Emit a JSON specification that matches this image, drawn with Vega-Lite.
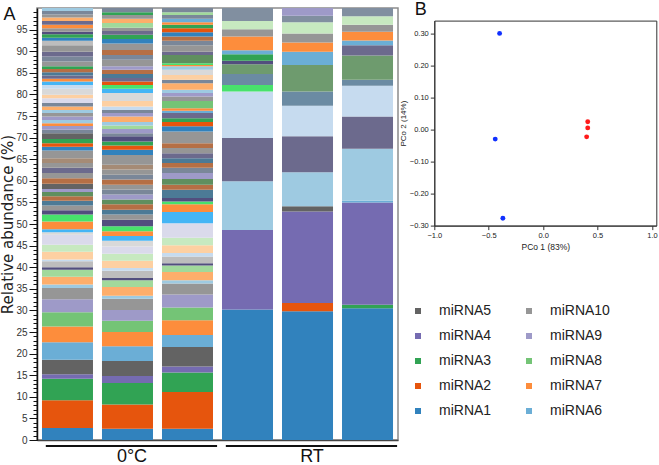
{
"$schema": "https://vega.github.io/schema/vega-lite/v6.json",
"padding": {"left": 0, "top": 0, "right": 0, "bottom": 0},
"background": "white",
"spacing": 36.3,
"bounds": "flush",
"config": {"font": "Liberation Sans", "view": {"stroke": null}, "axis": {"grid": false}},
"hconcat": [
{
"width": 361, "height": 432,
"view": {"stroke": "#8c8c8c", "strokeWidth": 1.5},
"resolve": {"axis": {"y": "independent"}},
"layer": [
{
"data": {"values": [
{"s":"S1","k":1,"t":"miRNA1","v":2.8},{"s":"S1","k":2,"t":"miRNA2","v":6.4},{"s":"S1","k":3,"t":"miRNA3","v":5.0},{"s":"S1","k":4,"t":"miRNA4","v":1.0},{"s":"S1","k":5,"t":"miRNA5","v":3.4},{"s":"S1","k":6,"t":"miRNA6","v":4.0},{"s":"S1","k":7,"t":"miRNA7","v":3.7},{"s":"S1","k":8,"t":"miRNA8","v":3.3},{"s":"S1","k":9,"t":"miRNA9","v":3.0},{"s":"S1","k":10,"t":"miRNA10","v":2.6},
{"s":"S1","k":11,"t":"miRNA11","v":0.8},{"s":"S1","k":12,"t":"miRNA12","v":1.8},{"s":"S1","k":13,"t":"miRNA13","v":1.6},{"s":"S1","k":14,"t":"miRNA14","v":0.6},{"s":"S1","k":15,"t":"miRNA15","v":1.4},{"s":"S1","k":16,"t":"miRNA16","v":0.4},{"s":"S1","k":17,"t":"miRNA17","v":1.8},{"s":"S1","k":18,"t":"miRNA18","v":1.6},{"s":"S1","k":19,"t":"miRNA19","v":2.3},{"s":"S1","k":20,"t":"miRNA20","v":0.6},
{"s":"S1","k":21,"t":"miRNA21","v":0.7},{"s":"S1","k":22,"t":"miRNA7","v":1.8},{"s":"S1","k":23,"t":"miRNA22","v":1.6},{"s":"S1","k":24,"t":"miRNA14","v":1.0},{"s":"S1","k":25,"t":"miRNA10","v":1.1},{"s":"S1","k":26,"t":"miRNA23","v":1.1},{"s":"S1","k":27,"t":"miRNA24","v":1.0},{"s":"S1","k":28,"t":"miRNA25","v":1.0},{"s":"S1","k":29,"t":"miRNA9","v":0.7},{"s":"S1","k":30,"t":"miRNA5","v":1.2},
{"s":"S1","k":31,"t":"miRNA24","v":1.3},{"s":"S1","k":32,"t":"miRNA10","v":1.2},{"s":"S1","k":33,"t":"miRNA27","v":1.2},{"s":"S1","k":34,"t":"miRNA10","v":1.1},{"s":"S1","k":35,"t":"miRNA31","v":1.1},{"s":"S1","k":36,"t":"miRNA10","v":1.8},{"s":"S1","k":37,"t":"miRNA1","v":0.9},{"s":"S1","k":38,"t":"miRNA2","v":0.8},{"s":"S1","k":39,"t":"miRNA3","v":1.0},{"s":"S1","k":40,"t":"miRNA5","v":1.3},
{"s":"S1","k":41,"t":"miRNA26","v":0.8},{"s":"S1","k":42,"t":"miRNA9","v":0.9},{"s":"S1","k":43,"t":"miRNA7","v":0.6},{"s":"S1","k":44,"t":"miRNA11","v":0.8},{"s":"S1","k":45,"t":"miRNA9","v":0.8},{"s":"S1","k":46,"t":"miRNA10","v":0.8},{"s":"S1","k":47,"t":"miRNA11","v":0.7},{"s":"S1","k":48,"t":"miRNA12","v":0.8},{"s":"S1","k":49,"t":"miRNA26","v":0.8},{"s":"S1","k":50,"t":"miRNA19","v":1.1},
{"s":"S1","k":51,"t":"miRNA17","v":0.8},{"s":"S1","k":52,"t":"miRNA20","v":1.4},{"s":"S1","k":53,"t":"miRNA16","v":0.9},{"s":"S1","k":54,"t":"miRNA21","v":0.8},{"s":"S1","k":55,"t":"miRNA7","v":0.6},{"s":"S1","k":56,"t":"miRNA27","v":0.8},{"s":"S1","k":57,"t":"miRNA23","v":0.7},{"s":"S1","k":58,"t":"miRNA24","v":0.8},{"s":"S1","k":59,"t":"miRNA3","v":0.6},{"s":"S1","k":60,"t":"miRNA10","v":1.1},
{"s":"S1","k":61,"t":"miRNA26","v":1.2},{"s":"S1","k":62,"t":"miRNA27","v":1.1},{"s":"S1","k":63,"t":"miRNA10","v":1.5},{"s":"S1","k":64,"t":"miRNA15","v":1.0},{"s":"S1","k":65,"t":"miRNA1","v":0.7},{"s":"S1","k":66,"t":"miRNA3","v":0.8},{"s":"S1","k":67,"t":"miRNA14","v":0.6},{"s":"S1","k":68,"t":"miRNA10","v":0.8},{"s":"S1","k":69,"t":"miRNA7","v":0.8},{"s":"S1","k":70,"t":"miRNA27","v":0.9},
{"s":"S1","k":71,"t":"miRNA12","v":0.8},{"s":"S1","k":72,"t":"miRNA10","v":0.7},{"s":"S1","k":73,"t":"miRNA26","v":0.8},{"s":"S1","k":74,"t":"miRNA11","v":0.7},
{"s":"S2","k":1,"t":"miRNA1","v":2.6},{"s":"S2","k":2,"t":"miRNA2","v":5.6},{"s":"S2","k":3,"t":"miRNA3","v":5.0},{"s":"S2","k":4,"t":"miRNA4","v":1.6},{"s":"S2","k":5,"t":"miRNA5","v":3.5},{"s":"S2","k":6,"t":"miRNA6","v":3.4},{"s":"S2","k":7,"t":"miRNA7","v":3.3},{"s":"S2","k":8,"t":"miRNA8","v":2.6},{"s":"S2","k":9,"t":"miRNA9","v":2.5},{"s":"S2","k":10,"t":"miRNA10","v":2.6},
{"s":"S2","k":11,"t":"miRNA11","v":0.7},{"s":"S2","k":12,"t":"miRNA12","v":2.0},{"s":"S2","k":13,"t":"miRNA13","v":1.6},{"s":"S2","k":14,"t":"miRNA14","v":0.5},{"s":"S2","k":15,"t":"miRNA15","v":1.7},{"s":"S2","k":16,"t":"miRNA16","v":0.6},{"s":"S2","k":17,"t":"miRNA17","v":1.7},{"s":"S2","k":18,"t":"miRNA18","v":1.6},{"s":"S2","k":19,"t":"miRNA19","v":1.7},{"s":"S2","k":20,"t":"miRNA20","v":1.3},
{"s":"S2","k":21,"t":"miRNA21","v":1.1},{"s":"S2","k":22,"t":"miRNA7","v":1.1},{"s":"S2","k":23,"t":"miRNA22","v":1.2},{"s":"S2","k":24,"t":"miRNA14","v":1.5},{"s":"S2","k":25,"t":"miRNA10","v":1.2},{"s":"S2","k":26,"t":"miRNA23","v":1.1},{"s":"S2","k":27,"t":"miRNA24","v":1.3},{"s":"S2","k":28,"t":"miRNA25","v":1.1},{"s":"S2","k":29,"t":"miRNA9","v":1.1},{"s":"S2","k":30,"t":"miRNA26","v":1.2},
{"s":"S2","k":31,"t":"miRNA10","v":1.1},{"s":"S2","k":32,"t":"miRNA24","v":1.2},{"s":"S2","k":33,"t":"miRNA26","v":1.1},{"s":"S2","k":34,"t":"miRNA10","v":1.2},{"s":"S2","k":35,"t":"miRNA31","v":1.1},{"s":"S2","k":36,"t":"miRNA10","v":2.3},{"s":"S2","k":37,"t":"miRNA1","v":1.2},{"s":"S2","k":38,"t":"miRNA2","v":1.0},{"s":"S2","k":39,"t":"miRNA3","v":0.9},{"s":"S2","k":40,"t":"miRNA14","v":1.2},
{"s":"S2","k":41,"t":"miRNA26","v":0.7},{"s":"S2","k":42,"t":"miRNA9","v":1.0},{"s":"S2","k":43,"t":"miRNA13","v":0.8},{"s":"S2","k":44,"t":"miRNA11","v":0.8},{"s":"S2","k":45,"t":"miRNA12","v":1.3},{"s":"S2","k":46,"t":"miRNA9","v":0.8},{"s":"S2","k":47,"t":"miRNA26","v":0.7},{"s":"S2","k":48,"t":"miRNA16","v":0.8},{"s":"S2","k":49,"t":"miRNA17","v":1.3},{"s":"S2","k":50,"t":"miRNA20","v":1.8},
{"s":"S2","k":51,"t":"miRNA21","v":1.0},{"s":"S2","k":52,"t":"miRNA22","v":0.9},{"s":"S2","k":53,"t":"miRNA2","v":0.8},{"s":"S2","k":54,"t":"miRNA27","v":0.8},{"s":"S2","k":55,"t":"miRNA23","v":0.9},{"s":"S2","k":56,"t":"miRNA24","v":1.0},{"s":"S2","k":57,"t":"miRNA9","v":0.8},{"s":"S2","k":58,"t":"miRNA10","v":1.5},{"s":"S2","k":59,"t":"miRNA26","v":1.1},{"s":"S2","k":60,"t":"miRNA24","v":1.2},
{"s":"S2","k":61,"t":"miRNA10","v":1.5},{"s":"S2","k":62,"t":"miRNA1","v":1.0},{"s":"S2","k":63,"t":"miRNA3","v":1.0},{"s":"S2","k":64,"t":"miRNA27","v":0.9},{"s":"S2","k":65,"t":"miRNA10","v":0.7},{"s":"S2","k":66,"t":"miRNA13","v":1.1},{"s":"S2","k":67,"t":"miRNA12","v":1.0},{"s":"S2","k":68,"t":"miRNA10","v":0.9},{"s":"S2","k":69,"t":"miRNA3","v":0.6},{"s":"S2","k":70,"t":"miRNA26","v":1.0},
{"s":"S3","k":1,"t":"miRNA1","v":2.6},{"s":"S3","k":2,"t":"miRNA2","v":8.5},{"s":"S3","k":3,"t":"miRNA3","v":4.5},{"s":"S3","k":4,"t":"miRNA4","v":1.4},{"s":"S3","k":5,"t":"miRNA5","v":4.5},{"s":"S3","k":6,"t":"miRNA6","v":2.8},{"s":"S3","k":7,"t":"miRNA7","v":3.4},{"s":"S3","k":8,"t":"miRNA8","v":3.0},{"s":"S3","k":9,"t":"miRNA9","v":3.0},{"s":"S3","k":10,"t":"miRNA10","v":2.5},
{"s":"S3","k":11,"t":"miRNA11","v":0.8},{"s":"S3","k":12,"t":"miRNA12","v":1.9},{"s":"S3","k":13,"t":"miRNA13","v":1.5},{"s":"S3","k":14,"t":"miRNA14","v":0.5},{"s":"S3","k":15,"t":"miRNA15","v":1.6},{"s":"S3","k":16,"t":"miRNA16","v":0.8},{"s":"S3","k":17,"t":"miRNA17","v":1.8},{"s":"S3","k":18,"t":"miRNA18","v":1.7},{"s":"S3","k":19,"t":"miRNA19","v":3.4},{"s":"S3","k":20,"t":"miRNA21","v":2.6},
{"s":"S3","k":21,"t":"miRNA7","v":1.8},{"s":"S3","k":22,"t":"miRNA22","v":0.6},{"s":"S3","k":23,"t":"miRNA14","v":0.8},{"s":"S3","k":24,"t":"miRNA23","v":1.9},{"s":"S3","k":25,"t":"miRNA24","v":1.2},{"s":"S3","k":26,"t":"miRNA25","v":1.3},{"s":"S3","k":27,"t":"miRNA9","v":1.4},{"s":"S3","k":28,"t":"miRNA26","v":1.2},{"s":"S3","k":29,"t":"miRNA24","v":1.1},{"s":"S3","k":30,"t":"miRNA23","v":1.1},
{"s":"S3","k":31,"t":"miRNA27","v":1.2},{"s":"S3","k":32,"t":"miRNA10","v":1.2},{"s":"S3","k":33,"t":"miRNA24","v":1.1},{"s":"S3","k":34,"t":"miRNA10","v":2.7},{"s":"S3","k":35,"t":"miRNA1","v":1.2},{"s":"S3","k":36,"t":"miRNA2","v":1.0},{"s":"S3","k":37,"t":"miRNA3","v":0.9},{"s":"S3","k":38,"t":"miRNA27","v":1.2},{"s":"S3","k":39,"t":"miRNA6","v":0.5},{"s":"S3","k":40,"t":"miRNA7","v":0.6},
{"s":"S3","k":41,"t":"miRNA8","v":1.7},{"s":"S3","k":42,"t":"miRNA10","v":1.0},{"s":"S3","k":43,"t":"miRNA9","v":0.8},{"s":"S3","k":44,"t":"miRNA11","v":0.8},{"s":"S3","k":45,"t":"miRNA12","v":1.5},{"s":"S3","k":46,"t":"miRNA26","v":0.8},{"s":"S3","k":47,"t":"miRNA17","v":1.1},{"s":"S3","k":48,"t":"miRNA20","v":1.2},{"s":"S3","k":49,"t":"miRNA11","v":0.8},{"s":"S3","k":50,"t":"miRNA7","v":0.3},
{"s":"S3","k":51,"t":"miRNA22","v":0.4},{"s":"S3","k":52,"t":"miRNA25","v":1.9},{"s":"S3","k":53,"t":"miRNA27","v":0.8},{"s":"S3","k":54,"t":"miRNA10","v":1.5},{"s":"S3","k":55,"t":"miRNA26","v":1.0},{"s":"S3","k":56,"t":"miRNA24","v":1.0},{"s":"S3","k":57,"t":"miRNA1","v":1.0},{"s":"S3","k":58,"t":"miRNA2","v":0.9},{"s":"S3","k":59,"t":"miRNA3","v":0.8},{"s":"S3","k":60,"t":"miRNA7","v":0.6},
{"s":"S3","k":61,"t":"miRNA6","v":0.8},{"s":"S3","k":62,"t":"miRNA26","v":0.9},{"s":"S3","k":63,"t":"miRNA13","v":0.6},{"s":"S3","k":64,"t":"miRNA26","v":1.0},
{"s":"S4","k":1,"t":"miRNA1","v":30.2},{"s":"S4","k":2,"t":"miRNA4","v":18.4},{"s":"S4","k":3,"t":"miRNA11","v":11.3},{"s":"S4","k":4,"t":"miRNA27","v":10.0},{"s":"S4","k":5,"t":"miRNA16","v":10.8},{"s":"S4","k":6,"t":"miRNA22","v":1.5},{"s":"S4","k":7,"t":"miRNA28","v":2.5},{"s":"S4","k":8,"t":"miRNA29","v":2.3},{"s":"S4","k":9,"t":"miRNA14","v":0.8},{"s":"S4","k":10,"t":"miRNA3","v":1.5},{"s":"S4","k":11,"t":"miRNA6","v":0.9},{"s":"S4","k":12,"t":"miRNA7","v":3.2},{"s":"S4","k":13,"t":"miRNA10","v":1.7},{"s":"S4","k":14,"t":"miRNA18","v":1.9},{"s":"S4","k":15,"t":"miRNA30","v":3.0},
{"s":"S5","k":1,"t":"miRNA1","v":29.8},{"s":"S5","k":2,"t":"miRNA2","v":1.9},{"s":"S5","k":3,"t":"miRNA4","v":21.2},{"s":"S5","k":4,"t":"miRNA5","v":1.2},{"s":"S5","k":5,"t":"miRNA11","v":7.9},{"s":"S5","k":6,"t":"miRNA27","v":8.3},{"s":"S5","k":7,"t":"miRNA16","v":7.1},{"s":"S5","k":8,"t":"miRNA28","v":3.3},{"s":"S5","k":9,"t":"miRNA29","v":6.1},{"s":"S5","k":10,"t":"miRNA6","v":3.1},{"s":"S5","k":11,"t":"miRNA7","v":2.1},{"s":"S5","k":12,"t":"miRNA10","v":2.1},{"s":"S5","k":13,"t":"miRNA18","v":2.6},{"s":"S5","k":14,"t":"miRNA30","v":1.5},{"s":"S5","k":15,"t":"miRNA9","v":1.8},
{"s":"S6","k":1,"t":"miRNA1","v":30.5},{"s":"S6","k":2,"t":"miRNA3","v":0.8},{"s":"S6","k":3,"t":"miRNA4","v":23.7},{"s":"S6","k":4,"t":"miRNA6","v":0.4},{"s":"S6","k":5,"t":"miRNA11","v":12.0},{"s":"S6","k":6,"t":"miRNA27","v":7.5},{"s":"S6","k":7,"t":"miRNA16","v":7.1},{"s":"S6","k":8,"t":"miRNA28","v":1.4},{"s":"S6","k":9,"t":"miRNA29","v":5.6},{"s":"S6","k":10,"t":"miRNA27","v":2.4},{"s":"S6","k":11,"t":"miRNA6","v":1.1},{"s":"S6","k":12,"t":"miRNA7","v":2.0},{"s":"S6","k":13,"t":"miRNA10","v":1.6},{"s":"S6","k":14,"t":"miRNA18","v":2.0},{"s":"S6","k":15,"t":"miRNA30","v":1.9}
]},
"mark": {"type": "bar", "stroke": null},
"encoding": {
"x": {"field": "s", "type": "nominal", "scale": {"paddingInner": 0.15, "paddingOuter": 0.083}, "axis": {"title": null, "labels": false, "ticks": false, "domain": true, "domainColor": "#444", "domainWidth": 1.5}},
"y": {"field": "v", "type": "quantitative", "stack": "zero", "scale": {"domain": [0, 100], "nice": false},
"axis": {"orient": "left", "title": "Relative abundance (%)", "titleFont": "DejaVu Sans", "titleFontSize": 15, "titleFontWeight": "normal", "titleColor": "#222", "titlePadding": 0,
"values": [0,5,10,15,20,25,30,35,40,45,50,55,60,65,70,75,80,85,90,95],
"labelFontSize": 10, "labelColor": "#333", "labelPadding": 2, "labelFlush": false, "labelOverlap": false,
"tickColor": "#111", "tickSize": 8, "domainColor": "#111", "domainWidth": 1.5}},
"color": {"field": "t", "type": "nominal",
"scale": {"domain": ["miRNA1","miRNA2","miRNA3","miRNA4","miRNA5","miRNA6","miRNA7","miRNA8","miRNA9","miRNA10","miRNA11","miRNA12","miRNA13","miRNA14","miRNA15","miRNA16","miRNA17","miRNA18","miRNA19","miRNA20","miRNA21","miRNA22","miRNA23","miRNA24","miRNA25","miRNA26","miRNA27","miRNA28","miRNA29","miRNA30","miRNA31"],
"range": ["#3182bd","#e6550d","#31a354","#756bb1","#636363","#6baed6","#fd8d3c","#74c476","#9e9ac8","#969696","#9ecae1","#fdae6b","#a1d99b","#524e7e","#bdbdbd","#c6dbef","#fdd0a2","#c7e9c0","#dadaeb","#d9d9d9","#45b5f5","#48e26c","#4c7a96","#b56f45","#5f8f5f","#7a8799","#6c6a8d","#6b8ba3","#6e9b6e","#818fa0","#a58b76"]},
"legend": {"values": ["miRNA5","miRNA4","miRNA3","miRNA2","miRNA1","miRNA10","miRNA9","miRNA8","miRNA7","miRNA6"], "columns": 2, "orient": "none", "legendX": 374, "legendY": 296, "title": null, "symbolType": "square", "symbolSize": 36, "symbolStrokeWidth": 0, "labelFontSize": 14, "labelColor": "#222", "labelOffset": 14, "rowPadding": 11, "columnPadding": 30, "padding": 0}},
"order": {"field": "k", "type": "quantitative"}
}
},
{
"data": {"values": [{"g": "0°C", "a": "S1", "b": "S3", "m": "S2"}, {"g": "RT", "a": "S4", "b": "S6", "m": "S5"}]},
"mark": {"type": "rule", "strokeWidth": 2, "color": "#111"},
"encoding": {"x": {"field": "a", "type": "nominal", "bandPosition": 0.075}, "x2": {"field": "b", "bandPosition": 1.08},
"y": {"datum": -1.4, "type": "quantitative",
"axis": {"orient": "left", "values": [0,1,2,3,4,5,6,7,8,9,10,11,12,13,14,15,16,17,18,19,20,21,22,23,24,25,26,27,28,29,30,31,32,33,34,35,36,37,38,39,40,41,42,43,44,45,46,47,48,49,50,51,52,53,54,55,56,57,58,59,60,61,62,63,64,65,66,67,68,69,70,71,72,73,74,75,76,77,78,79,80,81,82,83,84,85,86,87,88,89,90,91,92,93,94,95,96,97,98,99], "labels": false, "tickSize": 4, "tickColor": "#111", "domain": false, "grid": false,
"title": "A", "titleAngle": 0, "titleX": -34, "titleY": 11.6, "titleBaseline": "alphabetic", "titleAlign": "left", "titleFontSize": 18, "titleFontWeight": "normal", "titleColor": "#111"}}}
},
{
"data": {"values": [{"g": "0°C", "a": "S1", "b": "S3", "m": "S2"}, {"g": "RT", "a": "S4", "b": "S6", "m": "S5"}]},
"mark": {"type": "text", "fontSize": 18, "baseline": "alphabetic", "dx": 4.5, "color": "#111"},
"encoding": {"x": {"field": "m", "type": "nominal", "bandPosition": 0.5}, "y": {"datum": -5.0, "type": "quantitative", "axis": null}, "text": {"field": "g"}}
}
]
},
{
"vconcat": [
{
"width": 222, "height": 7,
"data": {"values": []},
"mark": "point"
},
{
"width": 222, "height": 205,
"view": {"stroke": "#333", "strokeWidth": 1},
"resolve": {"axis": {"x": "independent"}},
"layer": [
{
"data": {"values": [
{"pc1": -0.40, "pc2": 0.300, "g": "0°C"},
{"pc1": -0.44, "pc2": -0.030, "g": "0°C"},
{"pc1": -0.37, "pc2": -0.277, "g": "0°C"},
{"pc1": 0.41, "pc2": 0.024, "g": "RT"},
{"pc1": 0.41, "pc2": 0.005, "g": "RT"},
{"pc1": 0.40, "pc2": -0.023, "g": "RT"}
]},
"mark": {"type": "point", "filled": true, "size": 24, "opacity": 1},
"encoding": {
"x": {"field": "pc1", "type": "quantitative", "scale": {"domain": [-1, 1.04], "nice": false, "zero": false},
"axis": {"orient": "bottom", "title": "PCo 1 (83%)", "titleFontSize": 8.5, "titleFontWeight": "normal", "titleColor": "#222", "titlePadding": 3, "values": [-1, -0.5, 0, 0.5, 1], "format": ".1f", "labelFontSize": 7.5, "labelColor": "#222", "labelPadding": 2, "labelFlush": false, "labelOverlap": false, "tickSize": 4, "tickColor": "#333", "domainColor": "#333"}},
"y": {"field": "pc2", "type": "quantitative", "scale": {"domain": [-0.3, 0.34], "nice": false, "zero": false},
"axis": {"title": "PCo 2 (14%)", "titleFontSize": 8, "titleFontWeight": "normal", "titleColor": "#222", "titlePadding": 2, "values": [-0.3, -0.2, -0.1, 0, 0.1, 0.2, 0.3], "format": ".2f", "labelFontSize": 7.5, "labelColor": "#222", "labelPadding": 2, "labelFlush": false, "labelOverlap": false, "tickSize": 4, "tickColor": "#333", "domainColor": "#333"}},
"fill": {"field": "g", "type": "nominal", "scale": {"domain": ["0°C", "RT"], "range": ["#1030ff", "#ff1a1a"]}, "legend": null}
}
},
{
"data": {"values": []},
"mark": "point",
"encoding": {
"x": {"field": "pc1", "type": "quantitative",
"axis": {"orient": "top", "labels": false, "ticks": false, "domain": false, "grid": false, "title": "B", "titleX": -20, "titleY": -5.7, "titleBaseline": "alphabetic", "titleAlign": "left", "titleAngle": 0, "titleFontSize": 18, "titleFontWeight": "normal", "titleColor": "#111"}}
}
}
]
}
],
"spacing": 5.6,
"bounds": "flush"
}
]
}
